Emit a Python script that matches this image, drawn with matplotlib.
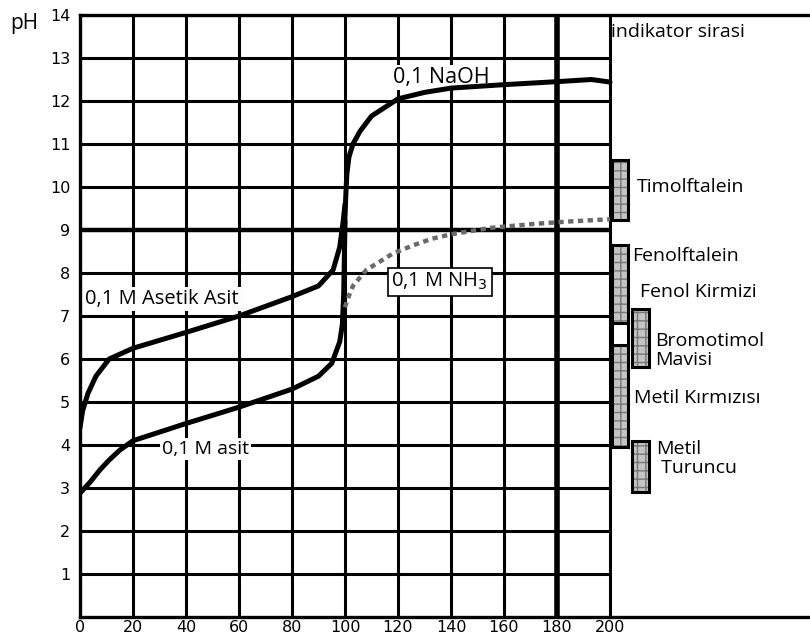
import matplotlib.pyplot as plt
from matplotlib.patches import Rectangle

# titrasyon egrileri: eklenen baz hacmi (mL) - pH
acid_v = [0, 4, 7.5, 11, 15, 20, 30, 40, 60, 80, 90, 95, 98, 99, 99.5, 99.8, 100]
acid_ph = [2.88, 3.15, 3.42, 3.65, 3.88, 4.1, 4.3, 4.5, 4.88, 5.3, 5.6, 5.9, 6.4, 6.8, 7.5, 8.5, 9.2]

acetic_v = [0, 1, 3, 6, 11, 20, 39, 60, 80, 90, 95.5, 98, 99.3, 100]
acetic_ph = [4.4, 4.8, 5.2, 5.6, 6.0, 6.25, 6.6, 7.0, 7.45, 7.7, 8.07, 8.6, 9.2, 9.6]

naoh_v = [99.8, 100.3, 100.7, 101.5, 103, 105.7, 110, 120, 130, 140, 160, 180, 193, 200]
naoh_ph = [9.0, 9.8, 10.3, 10.7, 11.0, 11.3, 11.65, 12.05, 12.2, 12.3, 12.38, 12.45, 12.5, 12.44]

nh3_v = [100, 101, 103, 108, 118, 126, 133, 140, 155, 171, 185, 200]
nh3_ph = [7.2, 7.4, 7.7, 8.07, 8.45, 8.65, 8.8, 8.9, 9.05, 9.14, 9.2, 9.25]

x_ticks = [0, 20, 40, 60, 80, 100, 120, 140, 160, 180, 200]
y_ticks = list(range(1, 15))

# indikator donum araliklari (pH)
ind_names = ["Timolftalein", "Fenolftalein", "Metil K\u0131rm\u0131z\u0131s\u0131",
             "Bromotimol Mavisi", "Metil Turuncu"]
ind_low = [9.23, 6.84, 3.95, 5.81, 2.9]
ind_high = [10.63, 8.65, 6.33, 7.16, 4.1]
ind_col = [0, 0, 0, 1, 1]

plt.rcParams["font.family"] = ["Open Sans", "DejaVu Sans"]

fig = plt.figure(figsize=(8.1, 6.41), dpi=100)
ax = fig.add_axes([80 / 810, 1 - 617 / 641, 730 / 810, 602 / 641])
ax.set_xlim(0, 730 / 2.65)
ax.set_ylim(0, 14)

# izgara
for x in x_ticks[1:]:
    lw = 4.0 if x == 180 else 2.2
    ax.plot([x, x], [0, 14], color="black", lw=lw, zorder=1, solid_capstyle="butt")
for y in y_ticks:
    lw = 3.2 if y == 9 else 2.2
    ax.plot([0, 200], [y, y], color="black", lw=lw, zorder=1, solid_capstyle="butt")

for s in ["left", "bottom", "top"]:
    ax.spines[s].set_linewidth(2.4)
ax.spines["right"].set_visible(False)

ax.set_xticks(x_ticks)
ax.set_yticks(y_ticks)
ax.tick_params(axis="x", length=0, labelsize=11.5, pad=2.5)
ax.tick_params(axis="y", length=0, labelsize=11.5, pad=7)
for lab in ax.get_xticklabels() + ax.get_yticklabels():
    lab.set_family(["Liberation Sans Narrow", "DejaVu Sans"])

# egriler
ax.plot(acid_v, acid_ph, color="black", lw=3.6, zorder=3, solid_capstyle="round")
ax.plot(acetic_v, acetic_ph, color="black", lw=3.6, zorder=3, solid_capstyle="round")
ax.plot(naoh_v, naoh_ph, color="black", lw=3.6, zorder=3, solid_capstyle="round")
ax.plot(nh3_v, nh3_ph, color="#6a6a6a", lw=3.2, ls=(0, (1.2, 1.0)), zorder=3)

# etiketler
white = dict(facecolor="white", edgecolor="none", pad=1.5)
ax.text(118, 12.55, "0,1 NaOH", fontsize=15.5, va="center", zorder=2.5, bbox=white)
ax.text(2, 7.4, "0,1 M Asetik Asit", fontsize=14.5, va="center", zorder=2.5, bbox=white)
ax.text(31, 3.9, "0,1 M asit", fontsize=14, va="center", zorder=2.5, bbox=white)
ax.text(117.5, 7.8, "0,1 M NH$_3$", fontsize=14.5, va="center", zorder=4,
        bbox=dict(facecolor="white", edgecolor="black", lw=1.2, pad=2.5))
ax.text(200.5, 13.6, "indikator sirasi", fontsize=14, va="center")

# indikator cubuklari
col_x = [200.9, 208.3]
col_w = [6.0, 6.5]
for lo, hi, c in zip(ind_low, ind_high, ind_col):
    ax.add_patch(Rectangle((col_x[c], lo), col_w[c], hi - lo, facecolor="#c4c4c4",
                           edgecolor="#777777", hatch="++", lw=0, zorder=2))
    ax.add_patch(Rectangle((col_x[c], lo), col_w[c], hi - lo, fill=False,
                           edgecolor="black", lw=2.2, zorder=2))
ax.add_patch(Rectangle((col_x[0], ind_high[2]), col_w[0], ind_low[1] - ind_high[2],
                       facecolor="white", edgecolor="black", lw=2.2, zorder=2))

ax.text(210, 10.0, "Timolftalein", fontsize=14, va="center")
ax.text(208.3, 8.4, "Fenolftalein", fontsize=14, va="center")
ax.text(211.3, 7.56, "Fenol Kirmizi", fontsize=14, va="center")
ax.text(217, 6.2, "Bromotimol\nMavisi", fontsize=14, va="center", linespacing=1.05)
ax.text(209, 5.1, "Metil K\u0131rm\u0131z\u0131s\u0131", fontsize=14, va="center")
ax.text(217.5, 3.68, "Metil\n Turuncu", fontsize=14, va="center", linespacing=1.05)

fig.text(10 / 810, 1 - 24 / 641, "pH", fontsize=15, va="center")

fig.savefig("out.png", dpi=100)
